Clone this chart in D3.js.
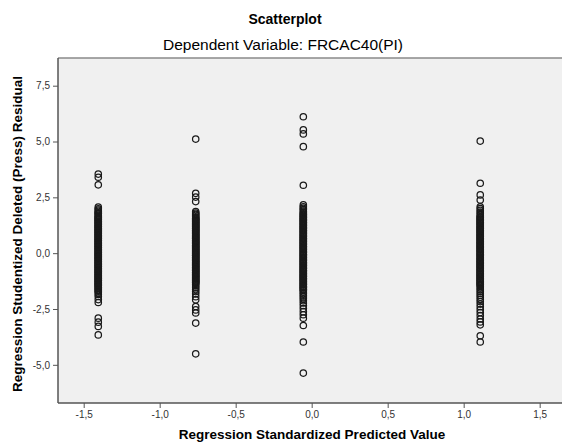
<!DOCTYPE html>
<html>
<head>
<meta charset="utf-8">
<script src="https://cdn.jsdelivr.net/npm/d3@7"></script>
<style>
  body { margin: 0; background: #fff; }
  svg text { font-family: "Liberation Sans", Arial, sans-serif; }
</style>
</head>
<body>
<script>
'use strict';

// predicted value of each vertical column
const columnX = [-1.404, -0.763, -0.055, 1.109];

// residuals, one list per column
const col1 = [3.54, 3.40, 3.06,
  2.06, 1.99, 1.93, 1.87, 1.81, 1.76, 1.70, 1.65, 1.59, 1.54, 1.48, 1.43, 1.38, 1.33, 1.27, 1.22,
  1.17, 1.12, 1.06, 1.01, 0.96, 0.91, 0.86, 0.80, 0.75, 0.70, 0.65, 0.59, 0.54, 0.49, 0.44, 0.38,
  0.33, 0.28, 0.23, 0.17, 0.12, 0.07, 0.02, -0.03, -0.09, -0.14, -0.19, -0.24, -0.30, -0.35, -0.40,
  -0.45, -0.51, -0.56, -0.61, -0.66, -0.72, -0.77, -0.82, -0.87, -0.93, -0.98, -1.03, -1.08, -1.14,
  -1.19, -1.24, -1.29, -1.35, -1.40, -1.45, -1.51, -1.57, -1.63, -1.70, -1.77, -1.85, -1.94, -2.08, -2.21,
  -2.91, -3.09, -3.28, -3.66];

const col2 = [5.11, 2.68, 2.51, 2.31,
  1.86, 1.80, 1.74, 1.69, 1.63, 1.58, 1.52, 1.47, 1.41, 1.36, 1.30, 1.25, 1.19, 1.14, 1.08, 1.03,
  0.97, 0.92, 0.86, 0.81, 0.75, 0.70, 0.64, 0.59, 0.53, 0.48, 0.42, 0.37, 0.31, 0.26, 0.20, 0.15,
  0.09, 0.04, -0.02, -0.07, -0.13, -0.18, -0.24, -0.29, -0.35, -0.40, -0.46, -0.51, -0.57, -0.62,
  -0.68, -0.73, -0.79, -0.84, -0.90, -0.95, -1.01, -1.06, -1.12, -1.17, -1.23, -1.28, -1.34, -1.40,
  -1.47, -1.55, -1.63, -1.72, -1.82, -1.95, -2.09,
  -2.39, -2.54, -2.68, -3.13, -4.51];

const col3 = [6.11, 5.52, 5.34, 4.77, 3.04,
  2.16, 2.08, 2.01, 1.95, 1.88, 1.82, 1.76, 1.70, 1.64, 1.58, 1.52, 1.46, 1.40, 1.34, 1.28, 1.22,
  1.16, 1.10, 1.04, 0.98, 0.92, 0.86, 0.80, 0.74, 0.68, 0.62, 0.56, 0.50, 0.44, 0.38, 0.32, 0.26,
  0.20, 0.14, 0.08, 0.02, -0.04, -0.10, -0.16, -0.22, -0.28, -0.34, -0.40, -0.46, -0.52, -0.58,
  -0.64, -0.70, -0.76, -0.82, -0.88, -0.94, -1.00, -1.06, -1.12, -1.18, -1.24, -1.30, -1.36, -1.42,
  -1.48, -1.54, -1.60, -1.67, -1.74, -1.81, -1.88, -1.96, -2.04, -2.13, -2.23, -2.35, -2.48, -2.62,
  -2.76, -2.91,
  -3.24, -3.98, -5.37];

const col4 = [5.02, 3.13, 2.61, 2.38,
  2.08, 2.00, 1.92, 1.84, 1.77, 1.70, 1.63, 1.57, 1.51, 1.45, 1.39, 1.33, 1.27, 1.21, 1.15, 1.09,
  1.03, 0.97, 0.91, 0.85, 0.79, 0.73, 0.67, 0.61, 0.55, 0.49, 0.43, 0.37, 0.31, 0.25, 0.19, 0.13,
  0.07, 0.01, -0.05, -0.11, -0.17, -0.23, -0.29, -0.35, -0.41, -0.47, -0.53, -0.59, -0.65, -0.71,
  -0.77, -0.83, -0.89, -0.95, -1.01, -1.07, -1.13, -1.19, -1.25, -1.31, -1.37, -1.43, -1.49,
  -1.56, -1.63, -1.71, -1.79, -1.88, -1.97, -2.07, -2.17, -2.28, -2.40, -2.53, -2.66, -2.80,
  -2.95, -3.08, -3.21,
  -3.70, -3.98];

// the crowded middle of each column, where circles pile up into a solid bar
const col1Core = [1.80, 1.62, 1.51, 1.41, 1.30, 1.19, 1.09, 0.99, 0.88, 0.78, 0.67, 0.57, 0.46,
  0.36, 0.25, 0.15, 0.04, -0.06, -0.17, -0.27, -0.38, -0.48, -0.59, -0.69, -0.80, -0.90, -1.01,
  -1.11, -1.22, -1.32, -1.43, -1.54, -1.68];
const col2Core = [1.55, 1.44, 1.33, 1.22, 1.11, 1.00, 0.89, 0.78, 0.67, 0.56, 0.45, 0.34, 0.23,
  0.12, 0.01, -0.10, -0.21, -0.32, -0.43, -0.54, -0.65, -0.76, -0.87, -0.98, -1.09, -1.20, -1.31];
const col3Core = [1.73, 1.61, 1.49, 1.37, 1.25, 1.13, 1.01, 0.89, 0.77, 0.65, 0.53, 0.41, 0.29,
  0.17, 0.05, -0.07, -0.19, -0.31, -0.43, -0.55, -0.67, -0.79, -0.91, -1.03, -1.15, -1.27, -1.39,
  -1.51, -1.63];
const col4Core = [1.60, 1.48, 1.36, 1.24, 1.12, 1.00, 0.88, 0.76, 0.64, 0.52, 0.40, 0.28, 0.16,
  0.04, -0.08, -0.20, -0.32, -0.44, -0.56, -0.68, -0.80, -0.92, -1.04, -1.16, -1.28, -1.40];

const xTicks = [-1.5, -1.0, -0.5, 0.0, 0.5, 1.0, 1.5];
const yTicks = [-5.0, -2.5, 0.0, 2.5, 5.0, 7.5];

const title = 'Scatterplot';
const subtitle = 'Dependent Variable: FRCAC40(PI)';
const xLabel = 'Regression Standardized Predicted Value';
const yLabel = 'Regression Studentized Deleted (Press) Residual';

const W = 562, H = 448;
const plot = {left: 58, top: 58, right: 564, bottom: 403};

const points = [];
[col1, col2, col3, col4].forEach((col, i) => {
  col.forEach(v => points.push({x: columnX[i], y: v}));
});
[col1Core, col2Core, col3Core, col4Core].forEach((col, i) => {
  col.forEach(v => points.push({x: columnX[i], y: v}));
});

const xScale = d3.scaleLinear()
    .domain([-1.669, 1.66])
    .range([plot.left, plot.right]);

const yScale = d3.scaleLinear()
    .domain([-6.71, 8.74])
    .range([plot.bottom, plot.top]);

const commaFmt = v => d3.format('.1f')(v).replace('.', ',').replace('−', '-');

const svg = d3.select('body').append('svg')
    .attr('width', W)
    .attr('height', H);

svg.append('rect')
    .attr('x', plot.left)
    .attr('y', plot.top)
    .attr('width', plot.right - plot.left)
    .attr('height', plot.bottom - plot.top)
    .attr('fill', '#f0f0f0');

// top frame line
svg.append('line')
    .attr('x1', plot.left).attr('x2', W)
    .attr('y1', plot.top).attr('y2', plot.top)
    .attr('stroke', '#8a8a8a')
    .attr('stroke-width', 1.5);

const xAxis = svg.append('g')
    .attr('transform', 'translate(0,' + plot.bottom + ')')
    .call(d3.axisBottom(xScale).tickValues(xTicks).tickFormat(commaFmt).tickSize(5).tickSizeOuter(0));

const yAxis = svg.append('g')
    .attr('transform', 'translate(' + plot.left + ',0)')
    .call(d3.axisLeft(yScale).tickValues(yTicks).tickFormat(commaFmt).tickSize(5).tickSizeOuter(0));

[xAxis, yAxis].forEach(ax => {
  ax.select('.domain').attr('stroke', '#555').attr('stroke-width', 1.5);
  ax.selectAll('.tick line').attr('stroke', '#555');
  ax.selectAll('.tick text')
      .attr('fill', '#333')
      .style('font-size', '10px')
      .style('font-family', '"Liberation Sans", Arial, sans-serif');
});
xAxis.select('.domain').attr('d', 'M' + plot.left + ',0H' + W);
yAxis.select('.domain').attr('d', 'M0,' + plot.top + 'V' + plot.bottom);

svg.append('g')
  .selectAll('circle')
  .data(points)
  .join('circle')
    .attr('cx', d => xScale(d.x))
    .attr('cy', d => yScale(d.y))
    .attr('r', 3.2)
    .attr('fill', 'none')
    .attr('stroke', '#1a1a1a')
    .attr('stroke-width', 1.25);

svg.append('text')
    .attr('x', 285)
    .attr('y', 24)
    .attr('text-anchor', 'middle')
    .style('font-size', '14px')
    .style('font-weight', 'bold')
    .text(title);

svg.append('text')
    .attr('x', 283)
    .attr('y', 50)
    .attr('text-anchor', 'middle')
    .style('font-size', '15.5px')
    .text(subtitle);

svg.append('text')
    .attr('x', 312)
    .attr('y', 439)
    .attr('text-anchor', 'middle')
    .style('font-size', '13.5px')
    .style('font-weight', 'bold')
    .text(xLabel);

svg.append('text')
    .attr('transform', 'translate(22,234) rotate(-90)')
    .attr('text-anchor', 'middle')
    .style('font-size', '13.5px')
    .style('font-weight', 'bold')
    .text(yLabel);
</script>
</body>
</html>
